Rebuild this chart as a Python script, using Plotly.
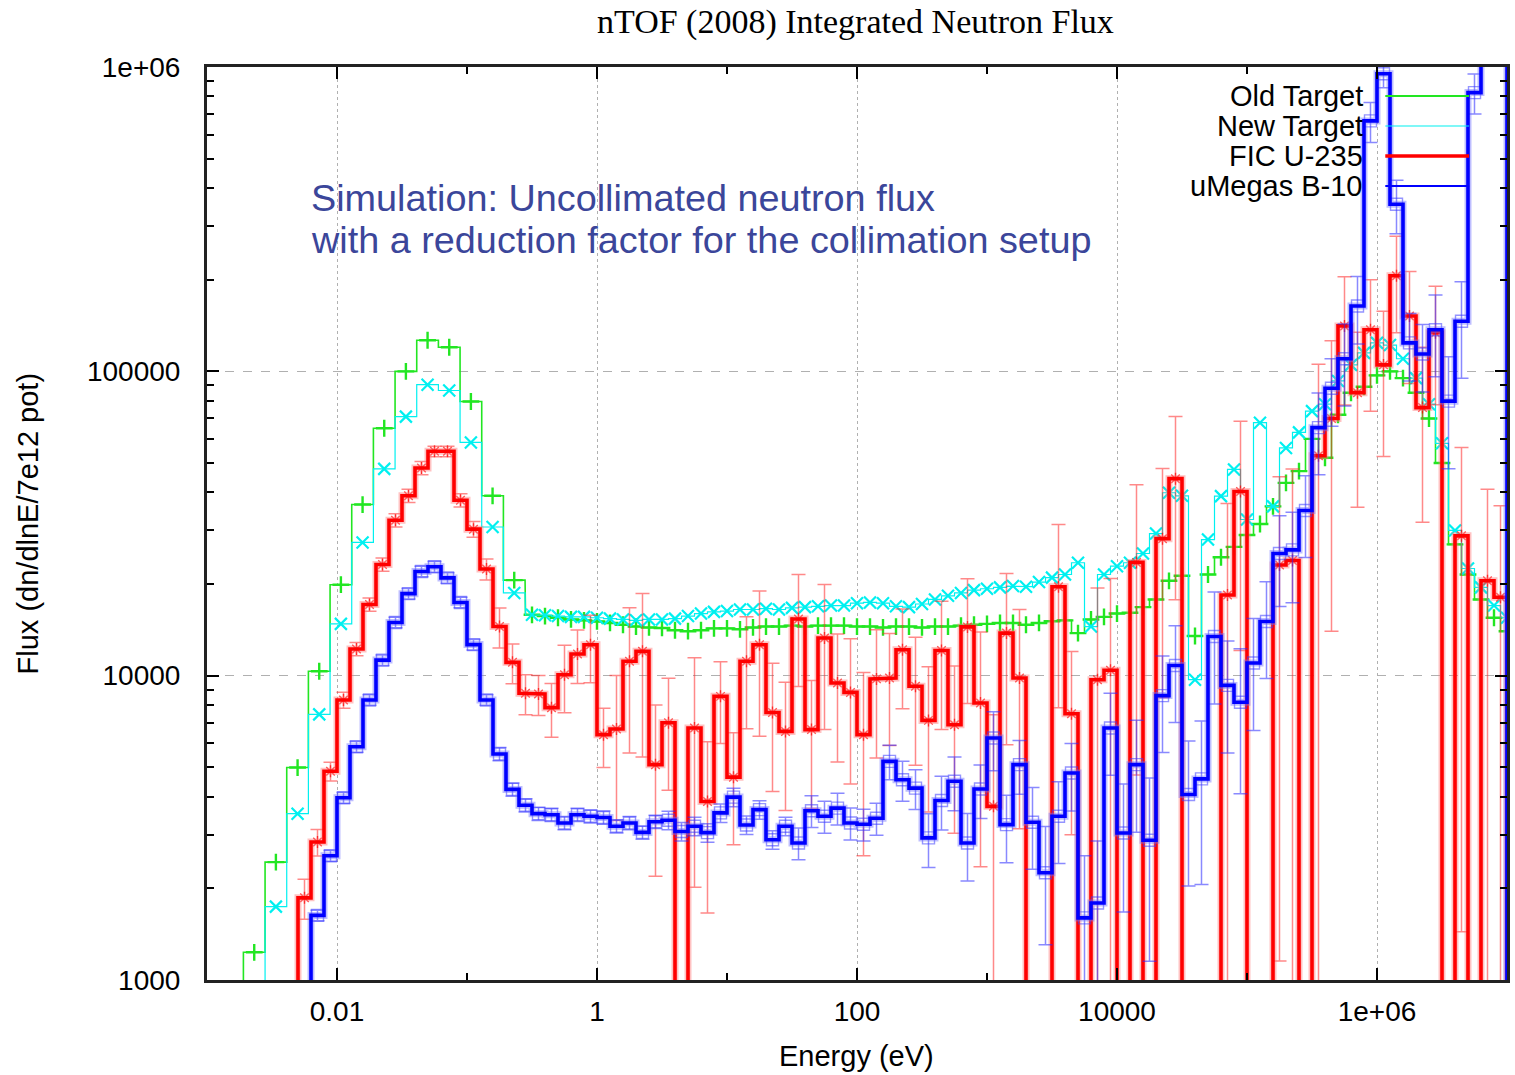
import numpy as np
import plotly.graph_objects as go

# ---------------- data ----------------
# log10(E/eV) bin grids
THERM_FIRST_EDGE = -2.72          # 1/6-decade thermal bins for the target simulations
THERM_NBINS = 13
FINE_CENTERS_LOG = np.round(np.arange(-0.5, 7.0001, 0.1), 3)   # 0.1-decade bins (targets, E > 0.3 eV)
RED_CENTERS_LOG = np.round(np.arange(-2.25, 6.96, 0.1), 3)     # FIC U-235 bins
BLUE_CENTERS_LOG = np.round(np.arange(-2.15, 6.96, 0.1), 3)    # uMegas B-10 bins

# Old Target (green)
green_thermal = [1233, 2440, 4990, 10340, 19900, 36500, 65000, 100000, 126500,
                 120000, 79600, 39000, 20600]
green_fine = [15850, 15700, 15500, 15300, 15200, 15070, 14900, 14700, 14500, 14400,
              14350, 14100, 14000, 14100, 14300, 14300, 14200, 14400, 14500, 14500,
              14600, 14500, 14600, 14600, 14600, 14500, 14500, 14400, 14500, 14500,
              14400, 14500, 14500, 14600, 14700, 14800, 14900, 14900, 14700, 14900,
              15100, 15200, 13800, 15300, 15600, 16000, 16100, 16800, 17800, 20500,
              21300, 13500, 21500, 24500, 26500, 29000, 31500, 36000, 43000, 47000,
              60000, 52000, 72000, 85000, 89000, 97000, 100000, 95000, 85000, 70000,
              50000, 27000, 21500, 17800, 15500, 14000]

# New Target (cyan)   (0 = empty bin)
cyan_thermal = [0, 1742, 3520, 7460, 14800, 27400, 47800, 71000, 90400, 86500,
                58400, 30800, 18700]
cyan_fine = [15850, 15800, 15700, 15600, 15600, 15500, 15400, 15300, 15200, 15300,
             15300, 15400, 15700, 16000, 16200, 16300, 16500, 16500, 16600, 16500,
             16700, 16800, 16900, 17000, 17000, 17300, 17400, 17300, 16900, 16800,
             17200, 17800, 18300, 18700, 19100, 19300, 19500, 19700, 19600, 20300,
             21000, 21500, 23500, 14500, 21500, 22900, 23500, 25200, 29300, 39900,
             39000, 9700, 28000, 38900, 47600, 32600, 67800, 36000, 56000, 63000,
             74000, 78000, 93000, 105000, 115000, 124000, 122000, 110000, 95000, 78000,
             58000, 30000, 22500, 19500, 17000, 15500]

# FIC U-235 (red)   (0 = empty bin)
fic_u235 = [1862, 2840, 4850, 8320, 12240, 17140, 23200, 32400, 39000, 48100,
            54600, 54600, 37700, 30300, 22400, 14500, 11060, 8750, 8700, 7850,
            10070, 11780, 12640, 6400, 6680, 11150, 12020, 5100, 7000, 0,
            6730, 3860, 8550, 4640, 11150, 12640, 7570, 6560, 15350, 6650,
            13300, 9460, 8810, 6400, 9760, 9820, 12170, 9230, 7130, 12100,
            6900, 14460, 8130, 3720, 13800, 9820, 0, 0, 19600, 7500,
            0, 9700, 10420, 0, 23560, 0, 28200, 44400, 0, 0,
            0, 18400, 40300, 0, 0, 23100, 23900, 0, 52800, 70000,
            141000, 85100, 137000, 105000, 206000, 152000, 76000, 134000, 0, 28800,
            0, 20500, 18100]
fic_u235_relerr = [0.15, 0.10, 0.07, 0.06, 0.05, 0.05, 0.05, 0.05, 0.05, 0.05,
                   0.04, 0.04, 0.05, 0.06, 0.08, 0.15, 0.15, 0.15, 0.15, 0.20,
                   0.25, 0.20, 0.25, 0.22, 0.50, 0.50, 0.55, 0.57, 0.40, 0.0,
                   0.70, 0.57, 0.30, 0.40, 0.40, 0.50, 0.45, 0.45, 0.40, 0.45,
                   0.50, 0.45, 0.50, 0.60, 0.45, 0.40, 0.36, 0.45, 0.50, 0.45,
                   0.56, 0.44, 0.71, 1.00, 0.57, 0.68, 0.0, 0.0, 0.60, 0.60,
                   0.0, 1.00, 1.00, 0.0, 0.80, 0.0, 0.70, 0.60, 0.0, 0.0,
                   0.0, 1.00, 0.70, 0.0, 0.0, 0.95, 1.00, 0.0, 1.00, 0.80,
                   0.45, 0.58, 0.46, 0.50, 0.35, 0.40, 0.58, 0.42, 0.0, 0.95,
                   0.0, 1.00, 1.00]

# uMegas B-10 (blue)
umegas_b10 = [1630, 2560, 3970, 5840, 8320, 11250, 14960, 18600, 22000, 22800,
              20950, 17400, 12650, 8320, 5530, 4230, 3750, 3520, 3490, 3280,
              3490, 3450, 3420, 3200, 3280, 3055, 3310, 3350, 3075, 3200,
              3050, 3540, 3990, 3230, 3630, 2890, 3200, 2820, 3600, 3450,
              3670, 3280, 3250, 3400, 5230, 4550, 4270, 2930, 3890, 4500,
              2820, 4240, 6240, 3240, 5100, 3300, 2250, 3450, 4790, 1600,
              1790, 6730, 3040, 5100, 2880, 8600, 10800, 4070, 4580, 13450,
              9290, 8180, 11010, 15070, 25200, 25900, 34900, 65300, 88000, 110000,
              164000, 665000, 950000, 354000, 124000, 114000, 137000, 79800, 146000, 824000,
              2000000, 2000000]
umegas_b10_relerr = ([0.04] * 14 + [0.05] * 13 + [0.07] * 10 + [0.12] * 7 +
                     [0.13, 0.15, 0.15, 0.20, 0.20, 0.20, 0.25, 0.20, 0.22, 0.25,
                      0.20, 0.30, 0.42, 0.30, 0.25, 0.60, 0.60, 0.30, 0.45, 0.40,
                      0.60, 0.35, 0.35, 0.50, 0.55, 0.40, 0.40, 0.50, 0.40, 0.35,
                      0.33, 0.33, 0.30, 0.30, 0.25, 0.30, 0.25, 0.15, 0.10, 0.20,
                      0.25, 0.25, 0.30, 0.40, 0.35, 0.15, 0.15, 0.15])

assert len(green_fine) == len(FINE_CENTERS_LOG) == len(cyan_fine)
assert len(fic_u235) == len(RED_CENTERS_LOG) == len(fic_u235_relerr)
assert len(umegas_b10) == len(BLUE_CENTERS_LOG) == len(umegas_b10_relerr)

FLOOR = 1.0  # empty bins are drawn down below the axis (off scale)

# ---------------- helpers ----------------
therm_edges = THERM_FIRST_EDGE + np.arange(THERM_NBINS + 1) / 6.0
therm_lo, therm_hi = therm_edges[:-1], therm_edges[1:]
fine_lo, fine_hi = FINE_CENTERS_LOG - 0.05, FINE_CENTERS_LOG + 0.05


def step_line(lo, hi, vals):
    xs, ys = [10 ** lo[0]], [FLOOR]
    for l, h, v in zip(lo, hi, vals):
        v = v if v > 0 else FLOOR
        xs += [10 ** l, 10 ** h]
        ys += [v, v]
    xs.append(10 ** hi[-1])
    ys.append(FLOOR)
    return xs, ys


def centers(lo, hi):
    return [10 ** ((l + h) / 2) for l, h in zip(lo, hi)]


def nz(vals):
    return [v if v > 0 else None for v in vals]


fig = go.Figure()

GREEN = "#22e622"
CYAN = "#00f0f0"
RED = "#ff0000"
BLUE = "#0000ff"

# ---- Old Target (green) ----
g_lo = list(therm_lo) + list(fine_lo)
g_hi = list(therm_hi) + list(fine_hi)
g_vals = green_thermal + green_fine
gx, gy = step_line(g_lo, g_hi, g_vals)
fig.add_trace(go.Scatter(x=gx, y=gy, mode="lines", line=dict(color=GREEN, width=1.6),
                         hoverinfo="skip", showlegend=False))
fig.add_trace(go.Scatter(x=centers(g_lo, g_hi), y=nz(g_vals), mode="markers",
                         marker=dict(symbol="cross-thin-open", size=12, color=GREEN,
                                     line=dict(color=GREEN, width=2.4)),
                         showlegend=False))

# ---- New Target (cyan) ----
c_vals = cyan_thermal + cyan_fine
cx, cy = step_line(g_lo, g_hi, c_vals)
fig.add_trace(go.Scatter(x=cx, y=cy, mode="lines", line=dict(color=CYAN, width=1.2),
                         hoverinfo="skip", showlegend=False))
fig.add_trace(go.Scatter(x=centers(g_lo, g_hi), y=nz(c_vals), mode="markers",
                         marker=dict(symbol="x-thin-open", size=12, color=CYAN,
                                     line=dict(color=CYAN, width=2.2)),
                         showlegend=False))

# ---- FIC U-235 (red) ----
r_lo, r_hi = RED_CENTERS_LOG - 0.05, RED_CENTERS_LOG + 0.05
r_err = [v * e if v > 0 else None for v, e in zip(fic_u235, fic_u235_relerr)]
r_errm = [min(v * e, v * 0.999) if v > 0 else None for v, e in zip(fic_u235, fic_u235_relerr)]
fig.add_trace(go.Scatter(x=10 ** RED_CENTERS_LOG, y=nz(fic_u235), mode="markers",
                         marker=dict(symbol="asterisk-open", size=10,
                                     color="rgba(255,0,0,0.7)",
                                     line=dict(color="rgba(255,0,0,0.7)", width=1.4)),
                         error_y=dict(type="data", array=r_err, arrayminus=r_errm,
                                      color="rgba(255,40,40,0.55)", thickness=1.5, width=7),
                         showlegend=False))
rx, ry = step_line(r_lo, r_hi, fic_u235)
fig.add_trace(go.Scatter(x=rx, y=ry, mode="lines",
                         line=dict(color="rgba(255,120,120,0.45)", width=7),
                         hoverinfo="skip", showlegend=False))
fig.add_trace(go.Scatter(x=rx, y=ry, mode="lines", line=dict(color=RED, width=3.6),
                         hoverinfo="skip", showlegend=False))

# ---- uMegas B-10 (blue) ----
b_lo, b_hi = BLUE_CENTERS_LOG - 0.05, BLUE_CENTERS_LOG + 0.05
b_err = [v * e for v, e in zip(umegas_b10, umegas_b10_relerr)]
fig.add_trace(go.Scatter(x=10 ** BLUE_CENTERS_LOG, y=umegas_b10, mode="markers",
                         marker=dict(symbol="square-open", size=12,
                                     color="rgba(60,60,255,0.55)",
                                     line=dict(color="rgba(60,60,255,0.55)", width=1.4)),
                         error_y=dict(type="data", array=b_err,
                                      color="rgba(40,40,255,0.55)", thickness=1.5, width=7),
                         showlegend=False))
bx, by = step_line(b_lo, b_hi, umegas_b10)
fig.add_trace(go.Scatter(x=bx, y=by, mode="lines",
                         line=dict(color="rgba(110,110,255,0.45)", width=7),
                         hoverinfo="skip", showlegend=False))
fig.add_trace(go.Scatter(x=bx, y=by, mode="lines", line=dict(color=BLUE, width=3.6),
                         hoverinfo="skip", showlegend=False))

# ---------------- layout ----------------
PL, PR, PT, PB = 207, 5, 67, 95
W, H = 1515, 1075
pw, ph = W - PL - PR, H - PT - PB


def px2paper(x=None, y=None):
    out = []
    if x is not None:
        out.append((x - PL) / pw)
    if y is not None:
        out.append(1 - (y - PT) / ph)
    return out[0] if len(out) == 1 else out


SANS = "Liberation Sans, Arial, sans-serif"
TICKFONT = dict(family=SANS, size=28, color="black")

x_major = [1e-2, 1, 1e2, 1e4, 1e6]
x_major_text = ["0.01", "1", "100", "10000", "1e+06"]
x_minor = [1e-3, 1e-1, 1e1, 1e3, 1e5, 1e7]
y_major = [1e3, 1e4, 1e5, 1e6]
y_major_text = ["1000", "10000", "100000", "1e+06"]
y_minor = [m * 10 ** d for d in (3, 4, 5) for m in range(2, 10)]

fig.update_layout(
    width=W, height=H,
    margin=dict(l=PL, r=PR, t=PT, b=PB, pad=0),
    paper_bgcolor="white", plot_bgcolor="white",
    showlegend=False,
    xaxis=dict(type="log", range=[-3, 7], tickvals=x_major, ticktext=x_major_text,
               ticks="inside", ticklen=12, tickwidth=1.5, tickcolor="black",
               showgrid=True, gridcolor="#b0b0b0", griddash="dot", gridwidth=1.2,
               minor=dict(tickvals=x_minor, ticks="inside", ticklen=7, tickcolor="black",
                          showgrid=False),
               showline=True, linecolor="#222222", linewidth=3, mirror="allticks",
               zeroline=False, tickfont=TICKFONT, ticklabelstandoff=4),
    yaxis=dict(type="log", range=[3, 6], tickvals=y_major, ticktext=y_major_text,
               ticks="inside", ticklen=12, tickwidth=1.5, tickcolor="black",
               showgrid=True, gridcolor="#b0b0b0", griddash="dash", gridwidth=1.2,
               minor=dict(tickvals=y_minor, ticks="inside", ticklen=7, tickcolor="black",
                          showgrid=False),
               showline=True, linecolor="#222222", linewidth=3, mirror="allticks",
               zeroline=False, tickfont=TICKFONT, ticklabelstandoff=18),
)

ann = []
# title
ann.append(dict(text="nTOF (2008) Integrated Neutron Flux", xref="paper", yref="paper",
                x=px2paper(x=857), y=px2paper(y=22), xanchor="center", yanchor="middle",
                showarrow=False, font=dict(family="Liberation Serif, Times New Roman, serif",
                                           size=34, color="black")))
# axis titles
ann.append(dict(text="Energy (eV)", xref="paper", yref="paper",
                x=px2paper(x=858), y=px2paper(y=1056), xanchor="center", yanchor="middle",
                showarrow=False, font=dict(family=SANS, size=29, color="black")))
ann.append(dict(text="Flux (dn/dlnE/7e12 pot)", xref="paper", yref="paper",
                x=px2paper(x=28), y=px2paper(y=524), xanchor="center", yanchor="middle",
                textangle=-90, showarrow=False,
                font=dict(family=SANS, size=29, color="black")))
# comment text
NOTE_COLOR = "#3b469a"
for txt, yy in [("Simulation: Uncollimated neutron flux", 198),
                ("with a reduction factor for the collimation setup", 240)]:
    ann.append(dict(text=txt, xref="paper", yref="paper", x=px2paper(x=309),
                    y=px2paper(y=yy), xanchor="left", yanchor="middle", showarrow=False,
                    font=dict(family=SANS, size=37.8, color=NOTE_COLOR)))

# gnuplot-style key (text right, sample to the right)
legend_entries = [("Old Target", GREEN, 2.0), ("New Target", CYAN, 1.2),
                  ("FIC U-235", RED, 3.5), ("uMegas B-10", BLUE, 2.0)]
shapes = []
for i, (name, col, lw) in enumerate(legend_entries):
    yy = 96 + 30 * i
    ann.append(dict(text=name, xref="paper", yref="paper", x=px2paper(x=1368),
                    y=px2paper(y=yy), xanchor="right", yanchor="middle", showarrow=False,
                    font=dict(family=SANS, size=29, color="black")))
    shapes.append(dict(type="line", xref="paper", yref="paper",
                       x0=px2paper(x=1388), x1=px2paper(x=1472),
                       y0=px2paper(y=yy), y1=px2paper(y=yy),
                       line=dict(color=col, width=lw)))

fig.update_layout(annotations=ann, shapes=shapes)

fig.write_html("out.html", config={"displayModeBar": False},
               post_script="document.body.style.margin='0';document.body.style.overflow='hidden';")
